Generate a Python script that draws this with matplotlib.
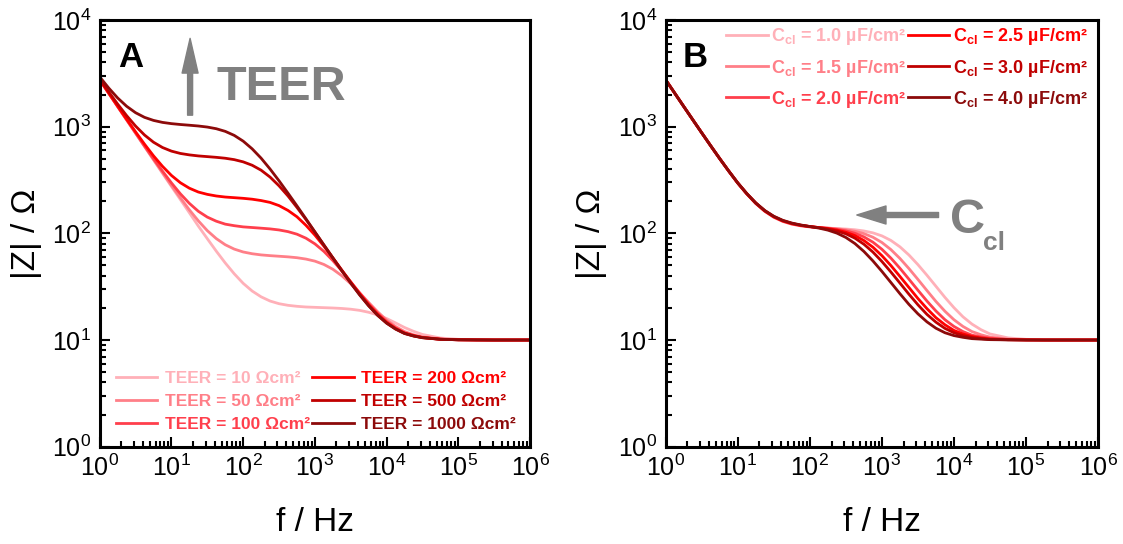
import matplotlib
matplotlib.use("Agg")
import matplotlib.pyplot as plt
from matplotlib.ticker import LogLocator, LogFormatterSciNotation, NullFormatter

plt.rcParams["font.family"] = ["Liberation Sans", "DejaVu Sans"]
plt.rcParams["mathtext.fontset"] = "custom"
plt.rcParams["mathtext.rm"] = "Liberation Sans"
plt.rcParams["mathtext.bf"] = "Liberation Sans:bold"

# frequency grid (Hz): eighth decades up to 10^4.5, then quarter decades
freq = [1, 1.334, 1.778, 2.371, 3.162, 4.217, 5.623, 7.499,
        10, 13.34, 17.78, 23.71, 31.62, 42.17, 56.23, 74.99,
        100, 133.4, 177.8, 237.1, 316.2, 421.7, 562.3, 749.9,
        1000, 1334, 1778, 2371, 3162, 4217, 5623, 7499,
        1e4, 1.334e4, 1.778e4, 2.371e4, 3.162e4,
        5.623e4, 1e5, 1.778e5, 3.162e5, 5.623e5, 1e6]

# panel A: |Z| (Ohm) for different TEER values
z_teer10 = [2744, 2058, 1543, 1157, 868, 651, 488, 366,
            275, 207, 156, 117, 89.1, 68.1, 52.8, 41.8,
            34.0, 28.8, 25.4, 23.2, 21.9, 21.15, 20.7, 20.4,
            20.25, 20.1, 19.96, 19.76, 19.45, 18.96, 18.2, 17.18,
            15.9, 14.46, 13.1, 12.07, 11.27,
            10.44, 10.15, 10.05, 10.02, 10.0, 10.0]
z_teer50 = [2745, 2059, 1544, 1159, 870, 654, 492, 371,
            281, 215, 166, 131, 106, 89.3, 78.2, 71.2,
            66.9, 64.4, 62.8, 61.8, 61.0, 60.2, 59.1, 57.4,
            54.9, 51.1, 46.1, 40.05, 33.7, 27.6, 22.5, 18.4,
            15.4, 13.4, 12.0, 11.2, 10.67,
            10.21, 10.07, 10.02, 10.0, 10.0, 10.0]
z_teer100 = [2746, 2061, 1547, 1163, 875, 660, 501, 383,
             297, 234.5, 191, 161, 142, 130, 122, 118,
             115, 113.4, 111.8, 110.1, 107.6, 103.8, 98.2, 90.1,
             79.7, 67.8, 55.6, 44.5, 35.1, 27.6, 21.9, 17.8,
             14.9, 13.0, 11.7, 11.05, 10.58,
             10.18, 10.05, 10.02, 10.0, 10.0, 10.0]
z_teer200 = [2752, 2069, 1558, 1177, 894, 685, 533, 425,
             349, 298, 265, 244, 232, 224, 219, 216,
             213, 209, 203, 195, 182, 164, 143, 119,
             96.3, 75.8, 58.8, 45.3, 34.9, 27.1, 21.4, 17.4,
             14.6, 12.8, 11.6, 10.97, 10.55,
             10.16, 10.05, 10.02, 10.0, 10.0, 10.0]
z_teer500 = [2793, 2123, 1629, 1270, 1013, 835, 715, 638,
             590, 561, 544, 532, 524, 516, 506, 491,
             468, 435, 391, 337, 279, 224, 175, 135,
             103, 77.9, 59.1, 44.9, 34.4, 26.6, 21.0, 17.1,
             14.4, 12.7, 11.55, 10.93, 10.53,
             10.16, 10.05, 10.02, 10.0, 10.0, 10.0]
z_teer1000 = [2933, 2304, 1859, 1554, 1352, 1223, 1145, 1097,
              1068, 1048, 1032, 1015, 992, 957, 904, 829,
              732, 620, 507, 401, 311, 238, 181, 137,
              103, 77.8, 58.8, 44.6, 34.1, 26.4, 20.9, 17.0,
              14.4, 12.65, 11.5, 10.9, 10.5,
              10.16, 10.05, 10.02, 10.0, 10.0, 10.0]
teer_labels = ["TEER = 10 Ωcm²", "TEER = 50 Ωcm²", "TEER = 100 Ωcm²",
               "TEER = 200 Ωcm²", "TEER = 500 Ωcm²", "TEER = 1000 Ωcm²"]

# panel B: |Z| (Ohm) for different C_cl values
z_c10 = [2746, 2061, 1547, 1163, 875, 660, 501, 382.5,
         296, 234, 190, 160.7, 141, 129, 122, 117.3,
         114.7, 113.1, 111.9, 111.0, 109.8, 108.1, 105.3, 101.1,
         94.7, 85.8, 74.8, 62.7, 50.9, 40.5, 31.9, 25.1,
         20.1, 16.5, 14.1, 12.5, 11.4,
         10.47, 10.15, 10.05, 10.01, 10.0, 10.0]
z_c15 = [2746, 2061, 1547, 1163, 875, 660, 501, 382.6,
         296, 234.5, 191, 161.2, 142, 129.7, 122, 117.9,
         115, 113.3, 112, 110.3, 108, 104.7, 99.5, 92.0,
         82.1, 70.4, 58.2, 46.8, 37.0, 29.1, 23.0, 18.6,
         15.5, 13.4, 12.0, 11.2, 10.65,
         10.2, 10.06, 10.02, 10.0, 10.0, 10.0]
z_c20 = [2746, 2061, 1547, 1163, 875, 660.5, 501, 383,
         296, 234.8, 191.3, 161.8, 142.5, 130.3, 122.9, 118.4,
         115.5, 113.4, 111.5, 109.0, 105.5, 100.2, 92.7, 82.7,
         70.9, 58.6, 47.1, 37.2, 29.3, 23.2, 18.7, 15.5,
         13.4, 12.0, 11.1, 10.7, 10.4,
         10.1, 10.03, 10.0, 10.0, 10.0, 10.0]
z_c25 = [2746, 2061, 1547, 1163, 875, 660.7, 501, 383.4,
         296, 235.2, 191.8, 162.3, 143.1, 130.9, 123.5, 118.8,
         115.8, 113.3, 110.8, 107.4, 102.4, 95.3, 85.7, 74.2,
         61.8, 49.9, 39.5, 31.1, 24.5, 19.7, 16.2, 13.9,
         12.3, 11.4, 10.8, 10.45, 10.22,
         10.07, 10.02, 10.0, 10.0, 10.0, 10.0]
z_c30 = [2746, 2061, 1547, 1163, 875, 660.8, 501, 383.6,
         297, 235.6, 192.2, 162.8, 143.6, 131.5, 124.0, 119.2,
         115.9, 113.1, 109.8, 105.3, 99.0, 90.2, 79.1, 66.8,
         54.5, 43.4, 34.2, 26.9, 21.4, 17.4, 14.7, 12.85,
         11.7, 11.0, 10.56, 10.32, 10.14,
         10.05, 10.02, 10.0, 10.0, 10.0, 10.0]
z_c40 = [2746, 2061, 1547, 1163, 876, 661, 501.6, 383.9,
         297, 236.3, 193, 163.8, 144.7, 132.5, 124.9, 119.8,
         115.9, 112.0, 107.2, 100.5, 91.5, 80.3, 67.7, 55.2,
         44.0, 34.6, 27.2, 21.6, 17.6, 14.8, 12.9, 11.7,
         11.0, 10.6, 10.3, 10.19, 10.08,
         10.03, 10.0, 10.0, 10.0, 10.0, 10.0]
ccl_labels = [r"$\mathbf{C_{cl}}$ = 1.0 µF/cm²", r"$\mathbf{C_{cl}}$ = 1.5 µF/cm²",
              r"$\mathbf{C_{cl}}$ = 2.0 µF/cm²", r"$\mathbf{C_{cl}}$ = 2.5 µF/cm²",
              r"$\mathbf{C_{cl}}$ = 3.0 µF/cm²", r"$\mathbf{C_{cl}}$ = 4.0 µF/cm²"]

colors = ["#ffb0b8", "#ff7f88", "#ff3f4c", "#ff0000", "#c00000", "#8c0a0a"]
gray = "#808080"

fig = plt.figure(figsize=(11.23, 5.44), dpi=100)
axA = fig.add_axes([0.0888, 0.1789, 0.3832, 0.7843])
axB = fig.add_axes([0.5928, 0.1789, 0.3850, 0.7843])


def style(ax):
    ax.set_xscale("log")
    ax.set_yscale("log")
    ax.set_xlim(1, 1e6)
    ax.set_ylim(1, 1e4)
    for axis in (ax.xaxis, ax.yaxis):
        axis.set_major_locator(LogLocator(base=10, numticks=12))
        axis.set_major_formatter(LogFormatterSciNotation())
        axis.set_minor_locator(LogLocator(base=10, subs=range(2, 10), numticks=12))
        axis.set_minor_formatter(NullFormatter())
    for s in ax.spines.values():
        s.set_linewidth(2.2)
    ax.tick_params(which="both", direction="in", top=False, right=False, width=1.5)
    ax.tick_params(which="major", length=7, labelsize=18, pad=6)
    ax.tick_params(which="minor", length=4)
    ax.set_xlabel("f / Hz", fontsize=24)
    ax.set_ylabel("|Z| / Ω", fontsize=24)
    ax.xaxis.set_label_coords(0.5, -0.142)
    ax.yaxis.set_label_coords(-0.135, 0.5)


# panel A
for z, lab, c in zip([z_teer10, z_teer50, z_teer100, z_teer200, z_teer500, z_teer1000],
                     teer_labels, colors):
    axA.plot(freq, z, color=c, lw=2, label=lab)
style(axA)
leg = axA.legend(ncol=2, loc="lower left", bbox_to_anchor=(0.037, 0.035), frameon=False,
                 prop={"weight": "bold", "size": 12.5}, handlelength=2.4, handletextpad=0.45,
                 columnspacing=0.1, labelspacing=0.45, borderpad=0, borderaxespad=0)
for t, c in zip(leg.get_texts(), colors):
    t.set_color(c)
axA.text(0.0727, 0.8906, "A", transform=axA.transAxes, fontsize=25, fontweight="bold",
         ha="center", va="baseline")
axA.annotate("", xy=(0.21, 0.957), xytext=(0.21, 0.777), xycoords="axes fraction",
             arrowprops=dict(width=3.6, headwidth=11.5, headlength=25, color=gray, shrink=0))
axA.text(0.423, 0.8124, "TEER", transform=axA.transAxes, fontsize=35, fontweight="bold",
         color=gray, ha="center", va="baseline")

# panel B
for z, lab, c in zip([z_c10, z_c15, z_c20, z_c25, z_c30, z_c40], ccl_labels, colors):
    axB.plot(freq, z, color=c, lw=2, label=lab)
style(axB)
leg = axB.legend(ncol=2, loc="upper left", bbox_to_anchor=(0.14, 0.985), frameon=False,
                 prop={"weight": "bold", "size": 13}, handlelength=2.3, handletextpad=0.2,
                 columnspacing=0.1, labelspacing=0.56, borderpad=0, borderaxespad=0)
for t, c in zip(leg.get_texts(), colors):
    t.set_color(c)
axB.text(0.068, 0.8906, "B", transform=axB.transAxes, fontsize=25, fontweight="bold",
         ha="center", va="baseline")
axB.annotate("", xy=(0.442, 0.543), xytext=(0.631, 0.543), xycoords="axes fraction",
             arrowprops=dict(width=3.6, headwidth=13, headlength=21, color=gray, shrink=0))
axB.text(0.658, 0.5008, "C", transform=axB.transAxes, fontsize=35, fontweight="bold",
         color=gray, ha="left", va="baseline")
axB.text(0.7334, 0.4608, "cl", transform=axB.transAxes, fontsize=19, fontweight="bold",
         color=gray, ha="left", va="baseline")

fig.savefig("out.png", dpi=100)
